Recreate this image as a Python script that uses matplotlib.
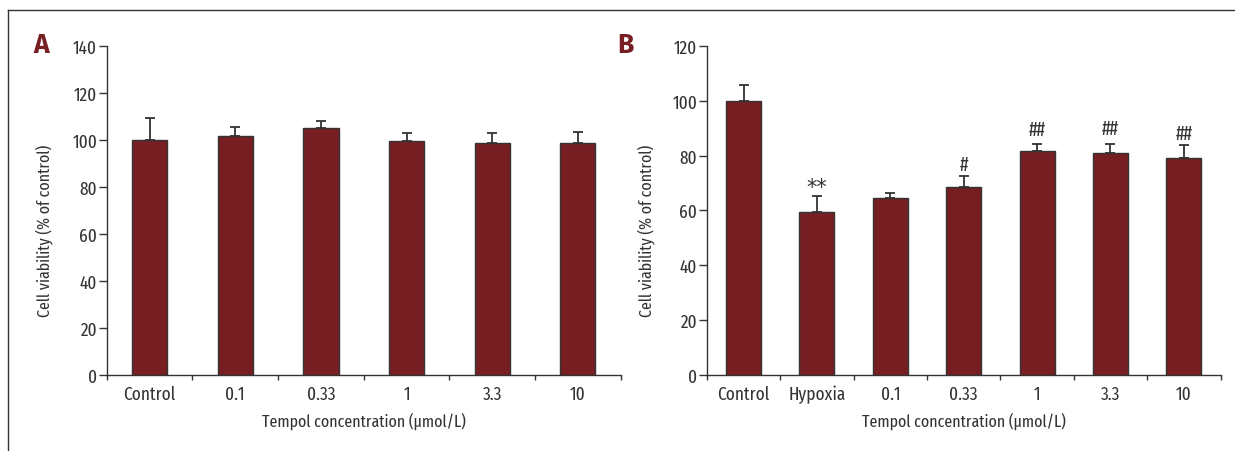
import numpy as np
import matplotlib
import matplotlib.pyplot as plt
from matplotlib.lines import Line2D

matplotlib.use("Agg")

plt.rcParams["font.family"] = ["Fira Sans Extra Condensed", "Fira Sans Condensed", "DejaVu Sans"]

BAR = "#771e22"
INK = "#333333"

# ── Data ──────────────────────────────────────────────────────────────────────
cats_a = ["Control", "0.1", "0.33", "1", "3.3", "10"]
vals_a = [100.0, 101.6, 104.9, 99.5, 98.8, 98.8]
err_a = [9.5, 4.0, 3.1, 3.3, 4.1, 4.7]

cats_b = ["Control", "Hypoxia", "0.1", "0.33", "1", "3.3", "10"]
vals_b = [99.8, 59.5, 64.5, 68.6, 81.8, 80.9, 79.2]
err_b = [6.0, 5.6, 1.8, 3.9, 2.4, 3.4, 4.7]
marks_b = ["", "**", "", "#", "##", "##", "##"]
mark_y_b = [None, 68.5, None, 76.7, 89.7, 90.0, 88.2]

XLABEL = "Tempol concentration (μmol/L)"
YLABEL = "Cell viability (% of control)"


def bar_panel(ax, cats, vals, errs, ymax, width):
    x = np.arange(len(cats))
    ax.bar(x, vals, width=width, color=BAR, edgecolor=INK, linewidth=1.0, zorder=3)
    ax.errorbar(x, vals, yerr=[np.zeros(len(errs)), errs], fmt="none",
                ecolor=INK, elinewidth=1.3, capsize=3.3, capthick=1.3, zorder=2)
    ax.set_xlim(-0.5, len(cats) - 0.5)
    ax.set_ylim(0, ymax)
    ax.set_yticks(np.arange(0, ymax + 1, 20))
    ax.set_xticks(x)
    ax.set_xticklabels(cats)
    ax.set_xticks(np.arange(len(cats) + 1) - 0.5, minor=True)
    ax.tick_params(axis="x", which="major", length=0, pad=7, labelsize=13.5, colors=INK)
    ax.tick_params(axis="x", which="minor", length=3.5, width=1.0, color=INK, direction="out")
    ax.tick_params(axis="y", length=6, width=1.0, pad=1, labelsize=13.5, colors=INK)
    for s in ["top", "right"]:
        ax.spines[s].set_visible(False)
    for s in ["left", "bottom"]:
        ax.spines[s].set_color(INK)
        ax.spines[s].set_linewidth(1.0)
    ax.set_xlabel(XLABEL, fontsize=12.5, color=INK)
    ax.set_ylabel(YLABEL, fontsize=12.5, color=INK)
    ax.xaxis.label.set_va("center")
    ax.yaxis.label.set_va("center")
    ax.xaxis.set_label_coords(0.5, -0.14)


fig = plt.figure(figsize=(12.35, 4.52), dpi=100)
ax_a = fig.add_axes([0.0865, 0.1688, 0.4161, 0.7272])
ax_b = fig.add_axes([0.5724, 0.1688, 0.4159, 0.7272])

bar_panel(ax_a, cats_a, vals_a, err_a, 140, 0.41)
bar_panel(ax_b, cats_b, vals_b, err_b, 120, 0.477)
ax_a.yaxis.set_label_coords(-0.122, 0.44)
ax_b.yaxis.set_label_coords(-0.1186, 0.44)

for i, (m, my) in enumerate(zip(marks_b, mark_y_b)):
    if m == "**":
        ax_b.text(i, my, m, ha="center", va="center", fontsize=15, color=INK,
                  family="DejaVu Sans")
    elif m:
        ax_b.text(i, my, m, ha="center", va="center", fontsize=14, color=INK)

# panel letters
fig.text(41 / 1235, 1 - 45 / 452, "A", fontsize=19, fontweight="bold",
         color=BAR, ha="center", va="center", family=["Fira Sans", "DejaVu Sans"])
fig.text(625 / 1235, 1 - 45 / 452, "B", fontsize=19, fontweight="bold",
         color=BAR, ha="center", va="center", family=["Fira Sans", "DejaVu Sans"])

# frame (top and left edges)
fig.add_artist(Line2D([8 / 1235, 8 / 1235], [0, 1 - 11 / 452],
                      transform=fig.transFigure, color=INK, lw=1.0))
fig.add_artist(Line2D([8 / 1235, 1], [1 - 11 / 452, 1 - 11 / 452],
                      transform=fig.transFigure, color=INK, lw=1.0))

fig.savefig("out.png", dpi=100)
